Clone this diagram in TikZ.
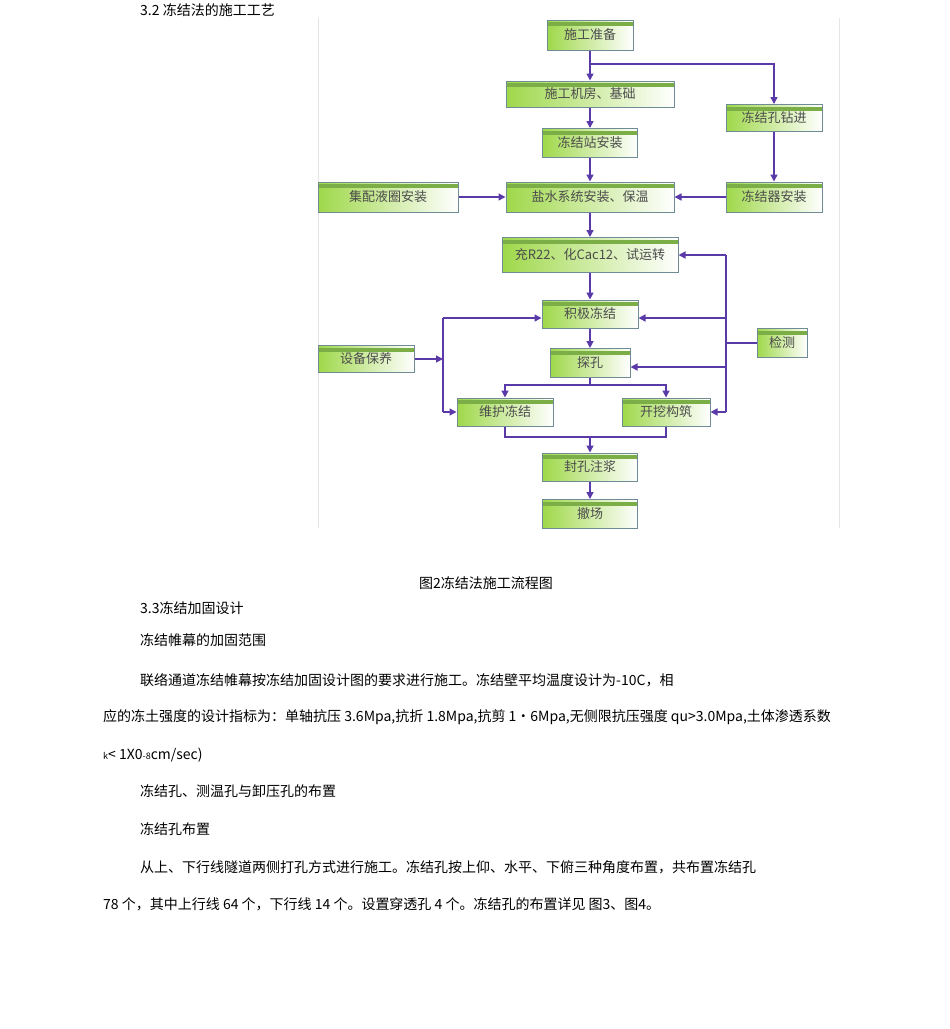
\documentclass[tikz,border=0pt]{standalone}
\usepackage{fontspec}
\setmainfont{Noto Sans CJK SC}
\usetikzlibrary{arrows.meta}
\definecolor{gb}{HTML}{5B9A1A}
\definecolor{gl}{HTML}{9FD84A}
\definecolor{bd}{HTML}{6F8C96}
\definecolor{ar}{HTML}{5A3AA8}
\begin{document}
\begin{tikzpicture}[x=1pt,y=-1pt,
  bx/.style={draw=bd,line width=1pt,left color=gl,right color=white,
    minimum height=#1,inner sep=0pt,font=\fontsize{13}{13}\selectfont,text=black!70,
    path picture={\fill[gb!80] ([yshift=-2pt]path picture bounding box.north west) rectangle ([yshift=-6pt]path picture bounding box.north east);}},
  bx/.default=28pt,
  ln/.style={ar,line width=1.4pt},
  arr/.style={ln,-{Triangle[length=7pt,width=7pt]}},
  tx/.style={anchor=west,inner sep=0pt,font=\fontsize{14}{14}\selectfont}]
\useasboundingbox (0,0) rectangle (950,1029);
\draw[black!10] (318,18)--(318,528) (839,18)--(839,528);
\newcommand\bxat[6]{\node[bx=#5pt,minimum width=#4pt] (#1) at (#2,#3) {#6};}
\bxat{a}{590}{35}{86}{30}{施工准备}
\bxat{b}{590}{94}{168}{26}{施工机房、基础}
\bxat{c}{774}{118}{96}{27}{冻结孔钻进}
\bxat{d}{590}{143}{95}{29}{冻结站安装}
\bxat{e}{388}{197}{140}{30}{集配液圈安装}
\bxat{f}{590}{197}{168}{30}{盐水系统安装、保温}
\bxat{g}{774}{197}{96}{30}{冻结器安装}
\bxat{h}{590}{255}{176}{35}{充R22、化Cac12、试运转}
\bxat{i}{590}{314}{96}{28}{积极冻结}
\bxat{j}{782}{343}{50}{29}{检测}
\bxat{k}{366}{359}{96}{27}{设备保养}
\bxat{l}{590}{363}{80}{29}{探孔}
\bxat{m}{505}{412}{96}{28}{维护冻结}
\bxat{n}{666}{412}{88}{28}{开挖构筑}
\bxat{o}{590}{467}{95}{28}{封孔注浆}
\bxat{p}{590}{514}{95}{29}{撤场}
\coordinate (t1) at (590,64);
\draw[ln] (a.south)--(t1);
\draw[arr] (t1)--(b.north);
\draw[arr] (t1)-|(c.north);
\draw[arr] (b)--(d);
\draw[arr] (d)--(f);
\draw[arr] (c)--(g);
\draw[arr] (e)--(f);
\draw[arr] (g)--(f);
\draw[arr] (f)--(h);
\draw[arr] (h)--(i);
\draw[arr] (i)--(l);
\coordinate (rt) at (726,255); \coordinate (rb) at (726,412);
\draw[ln] (j.west)--(726,343);
\draw[ln] (rt)--(rb);
\draw[arr] (rt)--(h.east);
\draw[arr] (726,318)--(i.east|-726,318);
\draw[arr] (726,367)--(l.east|-726,367);
\draw[arr] (rb)--(n.east);
\coordinate (lt) at (443,318); \coordinate (lb) at (443,412);
\draw[arr] (k.east)--(443,359);
\draw[ln] (lt)--(lb);
\draw[arr] (lt)--(i.west|-lt);
\draw[arr] (lb)--(m.west);
\coordinate (s1) at (590,385);
\draw[ln] (l.south)--(s1);
\draw[arr] (s1)-|(m.north);
\draw[arr] (s1)-|(n.north);
\coordinate (s2) at (590,437);
\draw[ln] (m.south)|-(s2)-|(n.south);
\draw[arr] (s2)--(o.north);
\draw[arr] (o)--(p);
\node[tx] at (140,10) {3.2 冻结法的施工工艺};
\node[inner sep=0pt,font=\fontsize{14}{14}\selectfont] at (486,583) {图2冻结法施工流程图};
\node[tx] at (140,608) {3.3冻结加固设计};
\node[tx] at (140,640) {冻结帷幕的加固范围};
\node[tx] at (140,680) {联络通道冻结帷幕按冻结加固设计图的要求进行施工。冻结壁平均温度设计为-10C，相};
\node[tx] at (103,717) {应的冻土强度的设计指标为：单轴抗压 3.6Mpa,抗折 1.8Mpa,抗剪 1·6Mpa,无侧限抗压强度 qu>3.0Mpa,土体渗透系数};
\node[tx] at (103,755) {{\fontsize{9}{9}\selectfont k}< 1X0{\fontsize{9}{9}\selectfont -8}cm/sec)};
\node[tx] at (140,791) {冻结孔、测温孔与卸压孔的布置};
\node[tx] at (140,829) {冻结孔布置};
\node[tx] at (140,867) {从上、下行线隧道两侧打孔方式进行施工。冻结孔按上仰、水平、下俯三种角度布置，共布置冻结孔};
\node[tx] at (103,904) {78 个，其中上行线 64 个，下行线 14 个。设置穿透孔 4 个。冻结孔的布置详见 图3、图4。};
\end{tikzpicture}
\end{document}
